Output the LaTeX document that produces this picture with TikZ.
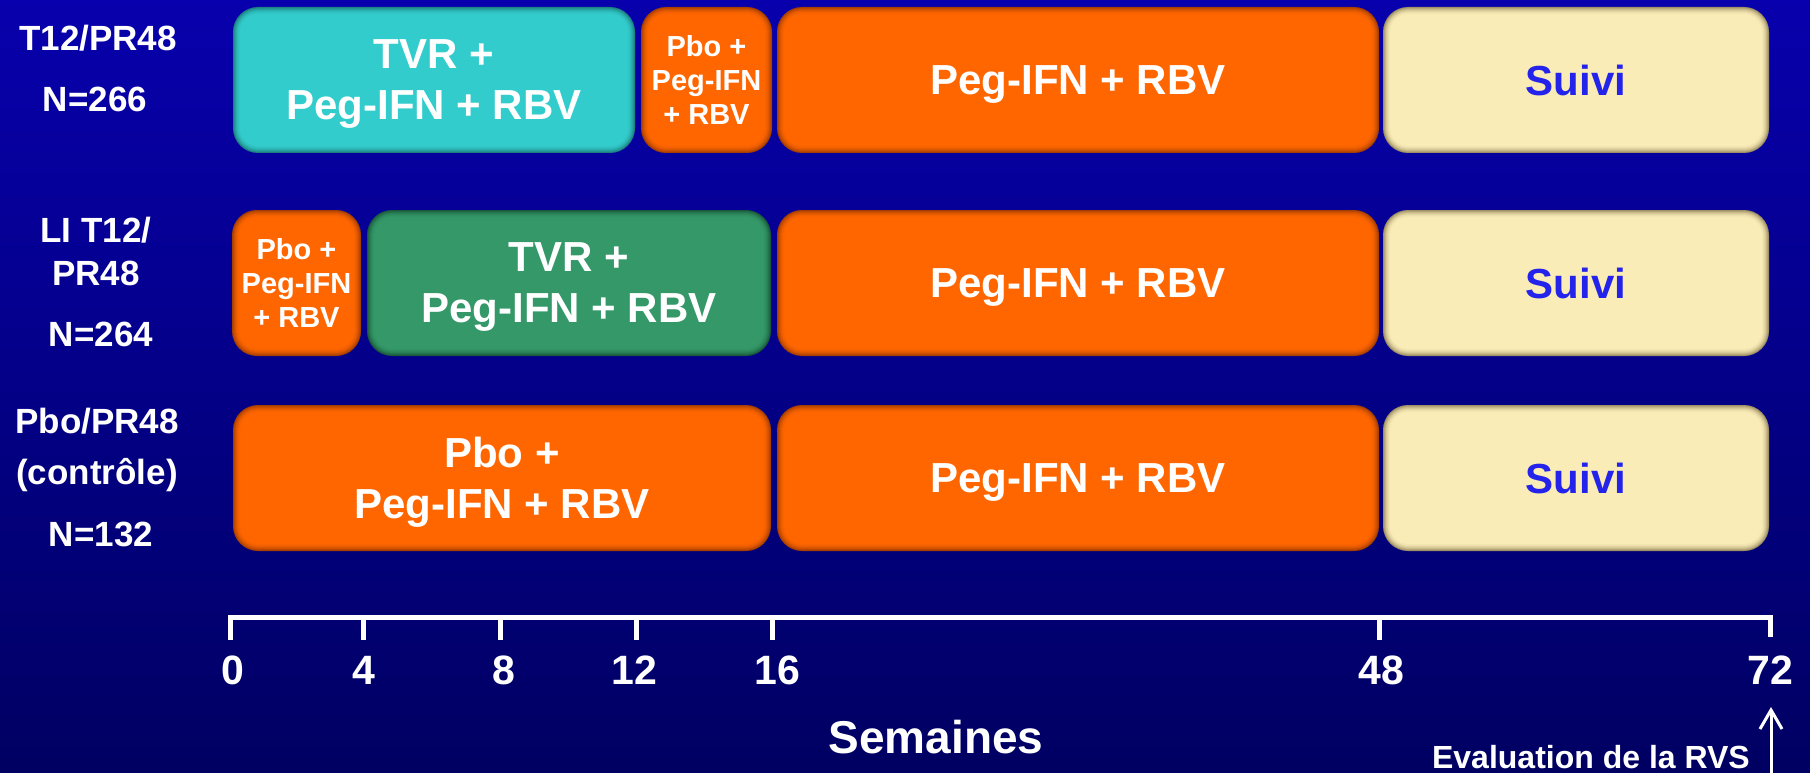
\documentclass[tikz,border=0pt]{standalone}
\usepackage{fontspec}
\setmainfont{Liberation Sans}
\usetikzlibrary{arrows.meta}

% palette
\definecolor{bgtop}{RGB}{8,0,172}
\definecolor{bgbot}{RGB}{0,0,98}
\definecolor{tvrcyan}{RGB}{51,204,204}
\definecolor{tvrcyanrim}{RGB}{28,128,128}
\definecolor{tvrgreen}{RGB}{52,152,104}
\definecolor{tvrgreenrim}{RGB}{24,88,58}
\definecolor{pegorange}{RGB}{255,102,0}
\definecolor{pegorangerim}{RGB}{165,62,0}
\definecolor{suivibeige}{RGB}{250,236,182}
\definecolor{suivibeigerim}{RGB}{158,144,100}
\definecolor{suiviblue}{RGB}{35,35,235}

\tikzset{
  phasetext/.style={text=white, font=\bfseries\fontsize{42}{51}\selectfont,
    align=center, text depth=0pt, inner sep=0pt},
  smalltext/.style={text=white, font=\bfseries\fontsize{29}{34}\selectfont,
    align=center, text depth=0pt, inner sep=0pt},
  suivitext/.style={text=suiviblue, font=\bfseries\fontsize{42}{51}\selectfont,
    text depth=0pt, inner sep=0pt},
  armlabel/.style={text=white, font=\bfseries\fontsize{35}{40}\selectfont,
    text depth=0pt, inner sep=0pt},
  ticklabel/.style={text=white, font=\bfseries\fontsize{41}{48}\selectfont,
    text depth=0pt, inner sep=0pt},
  axisline/.style={white, line width=5pt, line join=miter},
}

% rounded phase bar with a soft darker rim, plus its centred label
% #1 name, #2-#5 corners (x1,y1,x2,y2), #6 fill, #7 rim, #8 text style, #9 text
\newcommand\phasebox[9]{%
  \foreach \k in {0,...,8}{%
    \pgfmathsetmacro\shadepct{100*(1-(1-\k/8)*(1-\k/8))}%
    \pgfmathsetmacro\cornerrad{25-\k}%
    \fill[#6!\shadepct!#7, rounded corners=\cornerrad pt]
      (#2+\k,#3+\k) rectangle (#4-\k,#5-\k);
  }%
  \node[#8] (#1) at ({(#2+#4)/2},{(#3+#5)/2}) {#9};
}

\begin{document}
\begin{tikzpicture}[x=1pt,y=-1pt]
  \useasboundingbox (0,0) rectangle (1810,773);
  \shade[top color=bgtop, bottom color=bgbot] (0,0) rectangle (1810,773);

  % arm T12/PR48
  \phasebox{tvr1}{233}{7}{635}{153}{tvrcyan}{tvrcyanrim}{phasetext}{TVR +\\Peg-IFN + RBV}
  \phasebox{pbo1}{641}{7}{772}{153}{pegorange}{pegorangerim}{smalltext}{Pbo +\\Peg-IFN\\+ RBV}
  \phasebox{peg1}{777}{7}{1379}{153}{pegorange}{pegorangerim}{phasetext}{Peg-IFN + RBV}
  \phasebox{suivi1}{1383}{7}{1769}{153}{suivibeige}{suivibeigerim}{suivitext}{Suivi}

  % arm LI T12/PR48
  \phasebox{pbo2}{232}{210}{361}{356}{pegorange}{pegorangerim}{smalltext}{Pbo +\\Peg-IFN\\+ RBV}
  \phasebox{tvr2}{367}{210}{771}{356}{tvrgreen}{tvrgreenrim}{phasetext}{TVR +\\Peg-IFN + RBV}
  \phasebox{peg2}{777}{210}{1379}{356}{pegorange}{pegorangerim}{phasetext}{Peg-IFN + RBV}
  \phasebox{suivi2}{1383}{210}{1769}{356}{suivibeige}{suivibeigerim}{suivitext}{Suivi}

  % arm Pbo/PR48
  \phasebox{pbo3}{233}{405}{771}{551}{pegorange}{pegorangerim}{phasetext}{Pbo +\\Peg-IFN + RBV}
  \phasebox{peg3}{777}{405}{1379}{551}{pegorange}{pegorangerim}{phasetext}{Peg-IFN + RBV}
  \phasebox{suivi3}{1383}{405}{1769}{551}{suivibeige}{suivibeigerim}{suivitext}{Suivi}

  % arm labels
  \node[armlabel] (arm1a) at (98,38)  {T12/PR48};
  \node[armlabel] (arm1b) at (95,99)  {N=266};
  \node[armlabel] (arm2a) at (96,230) {LI T12/};
  \node[armlabel] (arm2b) at (96,273) {PR48};
  \node[armlabel] (arm2c) at (101,334) {N=264};
  \node[armlabel] (arm3a) at (97,421) {Pbo/PR48};
  \node[armlabel] (arm3b) at (97,471) {(contrôle)};
  \node[armlabel] (arm3c) at (101,534) {N=132};

  % time axis (weeks)
  \coordinate (t0)  at (230.5,617.5);
  \coordinate (t4)  at (363.5,617.5);
  \coordinate (t8)  at (500.5,617.5);
  \coordinate (t12) at (636,617.5);
  \coordinate (t16) at (772,617.5);
  \coordinate (t48) at (1379,617.5);
  \coordinate (t72) at (1770,617.5);
  \draw[axisline] ([yshift=-22pt]t0) -- (t0) -- (t72) -- ([yshift=-19pt]t72);
  \foreach \t in {t4,t8,t12,t16,t48}
    \draw[axisline] (\t) -- ([yshift=-22pt]\t);

  \node[ticklabel] (w0)  at (233,670)  {0};
  \node[ticklabel] (w4)  at (364,670)  {4};
  \node[ticklabel] (w8)  at (504,670)  {8};
  \node[ticklabel] (w12) at (634,670)  {12};
  \node[ticklabel] (w16) at (777,670)  {16};
  \node[ticklabel] (w48) at (1381,670) {48};
  \node[ticklabel] (w72) at (1770,670) {72};

  \node[text=white, font=\bfseries\fontsize{46}{52}\selectfont, text depth=0pt, inner sep=0pt]
    (weeks) at (936,737) {Semaines};

  % end-of-follow-up assessment
  \node[text=white, font=\bfseries\fontsize{32}{38}\selectfont, inner sep=0pt, anchor=base east]
    (rvs) at (1750,768) {Evaluation de la RVS};
  \coordinate (rvs-foot) at (1771,775);
  \coordinate (rvs-tip)  at (1771,707);
  \draw[white, line width=3pt, -{Straight Barb[length=19pt,width=22pt]}] (rvs-foot) -- (rvs-tip);
\end{tikzpicture}
\end{document}
